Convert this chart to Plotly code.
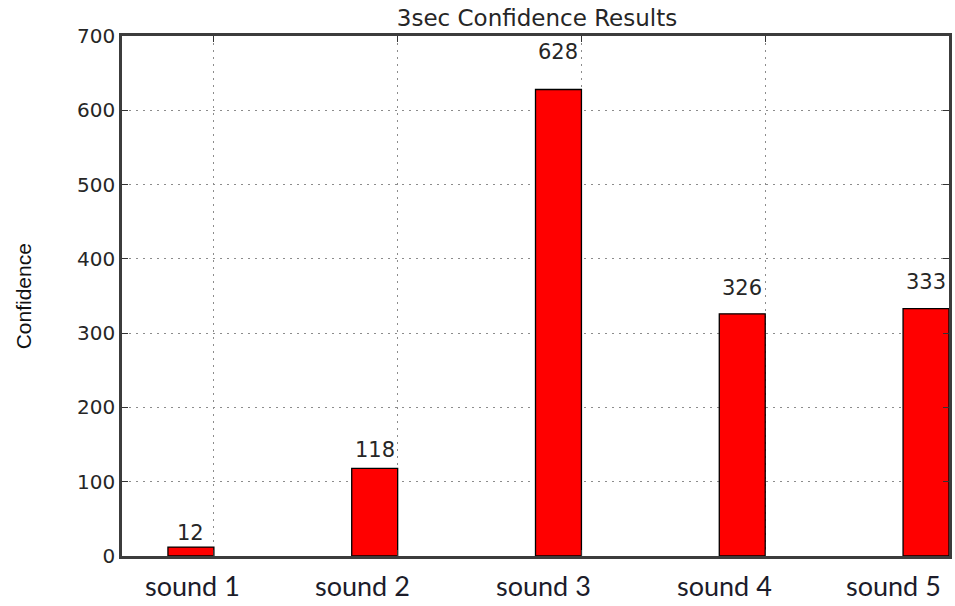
import plotly.graph_objects as go

# Confidence per sound clip (3 second window)
categories = ["sound 1", "sound 2", "sound 3", "sound 4", "sound 5"]
confidence = [12, 118, 628, 326, 333]
y_ticks = [0, 100, 200, 300, 400, 500, 600, 700]

bar_width = 0.25
idx = list(range(len(categories)))
centers = [i + bar_width / 2 for i in idx]
grid_x = [i + bar_width for i in idx]
# category captions sit on a slightly tighter pitch than the bars
label_x = [0.135, 1.057, 2.044, 3.03, 3.95]

text_color = "#262626"

fig = go.Figure()
fig.add_trace(go.Bar(
    x=centers, y=confidence, width=bar_width,
    marker=dict(color="#ff0000", line=dict(color="#000000", width=1.3)),
    showlegend=False, hoverinfo="skip",
))

# value labels placed just above each bar
for c, v in zip(centers, confidence):
    fig.add_annotation(x=c, y=v * 1.05, text=str(v), showarrow=False,
                       yanchor="bottom", xanchor="center",
                       font=dict(family="DejaVu Sans", size=21, color=text_color))

# category captions under the axis
for lx, name in zip(label_x, categories):
    fig.add_annotation(x=lx, y=0, yref="paper", text=name, showarrow=False,
                       yanchor="middle", xanchor="center", yshift=-29,
                       font=dict(family="Lato, Carlito, sans-serif", size=27,
                                 color="#1c1c2a"))

# y axis caption
fig.add_annotation(x=-99 / 830, y=0.5, xref="paper", yref="paper",
                   text="Confidence", textangle=-90, showarrow=False,
                   xanchor="center", yanchor="middle",
                   font=dict(family="Liberation Sans Narrow, Arial Narrow, Liberation Sans, sans-serif",
                             size=21, color="#111111"))

xr = [-0.25, 4.25]
grid_style = dict(showgrid=True, gridcolor="#8c8c8c", griddash="2px,5px", gridwidth=1,
                  ticks="inside", ticklen=6, tickcolor="#333333",
                  showline=True, linecolor="#3c3c3c", linewidth=2.5,
                  mirror="allticks", zeroline=False)

fig.update_layout(
    width=955, height=606,
    margin=dict(l=122, r=3, t=36, b=50),
    paper_bgcolor="white", plot_bgcolor="white",
    title=dict(text="3sec Confidence Results", x=537 / 955, xanchor="center",
               y=1 - 18 / 606, yanchor="middle",
               font=dict(family="DejaVu Sans", size=23, color=text_color)),
    xaxis=dict(range=xr, tickvals=grid_x, ticktext=[""] * len(grid_x), **grid_style),
    yaxis=dict(range=[0, 700], tickvals=y_ticks, **grid_style,
               tickfont=dict(family="DejaVu Sans", size=20, color=text_color)),
)

fig.write_html("out.html")
